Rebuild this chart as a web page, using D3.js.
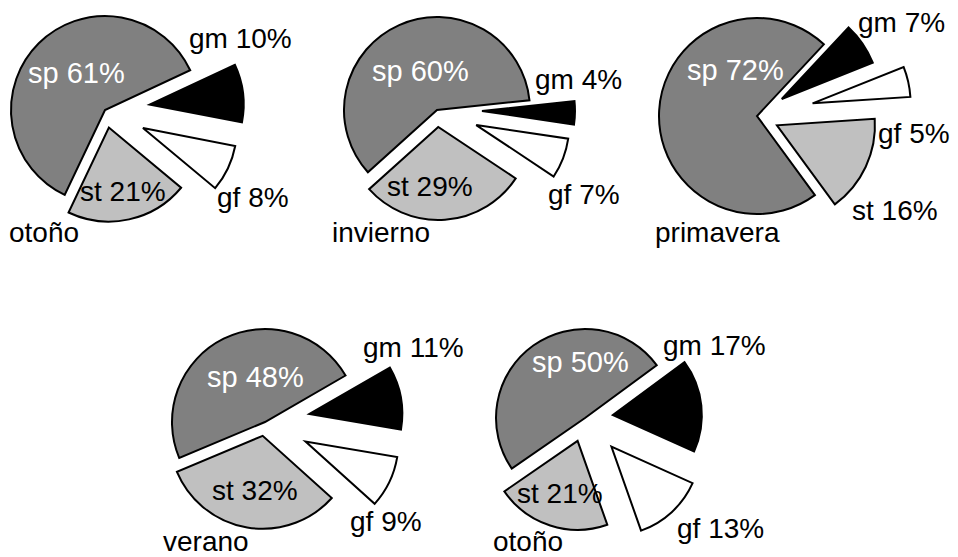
<!DOCTYPE html>
<html>
<head>
<meta charset="utf-8">
<script src="https://cdn.jsdelivr.net/npm/d3@7"></script>
<style>
  body { margin: 0; background: #fff; }
  text { font-family: "Liberation Sans", Arial, sans-serif; }
</style>
</head>
<body>
<svg id="chart" width="958" height="557"></svg>
<script>
// ---- data ----
const seasons    = ["otoño", "invierno", "primavera", "verano", "otoño"];
const categories = ["gm", "gf", "st", "sp"];
const gmValues   = [10, 4, 7, 11, 17];
const gfValues   = [8, 7, 5, 9, 13];
const stValues   = [21, 29, 16, 32, 21];
const spValues   = [61, 60, 72, 48, 50];

// ---- layout (positions / sizes only) ----
const layout = [
  { cx: 105, cy: 110, r: 94, start: 65,
    explode: { gm: 45, gf: 42, st: 18, sp: 0 },
    labels: { sp: [28, 83], gm: [189, 48], st: [80, 201], gf: [217, 207], season: [9, 242] } },
  { cx: 437, cy: 110, r: 93, start: 84,
    explode: { gm: 45, gf: 42, st: 17, sp: 0 },
    labels: { sp: [372, 81], gm: [535, 89], st: [387, 196], gf: [548, 204], season: [332, 242] } },
  { cx: 757, cy: 116, r: 98, start: 43,
    explode: { gm: 30, gf: 57, st: 22, sp: 0 },
    labels: { sp: [687, 80], gm: [858, 32], st: [852, 220], gf: [878, 143], season: [655, 242] } },
  { cx: 265, cy: 422, r: 93, start: 60,
    explode: { gm: 45, gf: 45, st: 14, sp: 0 },
    labels: { sp: [207, 387], gm: [363, 357], st: [212, 500], gf: [350, 531], season: [163, 551] } },
  { cx: 585, cy: 418, r: 89, start: 53.6,
    explode: { gm: 28, gf: 39, st: 24, sp: 0 },
    labels: { sp: [532, 372], gm: [663, 355], st: [517, 503], gf: [677, 538], season: [493, 551] } }
];

const valuesByCat = { gm: gmValues, gf: gfValues, st: stValues, sp: spValues };
const fill = d3.scaleOrdinal(categories, ["#000000", "#ffffff", "#c0c0c0", "#808080"]);
const textFill = d3.scaleOrdinal(categories, ["#000", "#000", "#000", "#fff"]);
const textSize = d3.scaleOrdinal(categories, [28, 28, 28, 29]);

const svg = d3.select("#chart");

seasons.forEach((season, i) => {
  const L = layout[i];
  const rows = categories.map(c => ({ cat: c, value: valuesByCat[c][i] }));
  const startRad = L.start * Math.PI / 180;
  const pie = d3.pie().sort(null).value(d => d.value)
    .startAngle(startRad).endAngle(startRad + 2 * Math.PI);
  const arc = d3.arc().innerRadius(0).outerRadius(L.r);
  const arcs = pie(rows);

  const g = svg.append("g").attr("transform", `translate(${L.cx},${L.cy})`);
  g.selectAll("path").data(arcs).join("path")
    .attr("d", arc)
    .attr("transform", d => {
      const mid = (d.startAngle + d.endAngle) / 2;
      const e = L.explode[d.data.cat];
      return `translate(${e * Math.sin(mid)},${-e * Math.cos(mid)})`;
    })
    .attr("fill", d => fill(d.data.cat))
    .attr("stroke", "#000")
    .attr("stroke-width", 2)
    .attr("stroke-linejoin", "miter");

  svg.append("g").selectAll("text").data(rows).join("text")
    .attr("x", d => L.labels[d.cat][0])
    .attr("y", d => L.labels[d.cat][1])
    .attr("font-size", d => textSize(d.cat))
    .attr("fill", d => textFill(d.cat))
    .text(d => `${d.cat} ${d.value}%`);

  svg.append("text")
    .attr("x", L.labels.season[0])
    .attr("y", L.labels.season[1])
    .attr("font-size", 28)
    .attr("fill", "#000")
    .text(season);
});
</script>
</body>
</html>
